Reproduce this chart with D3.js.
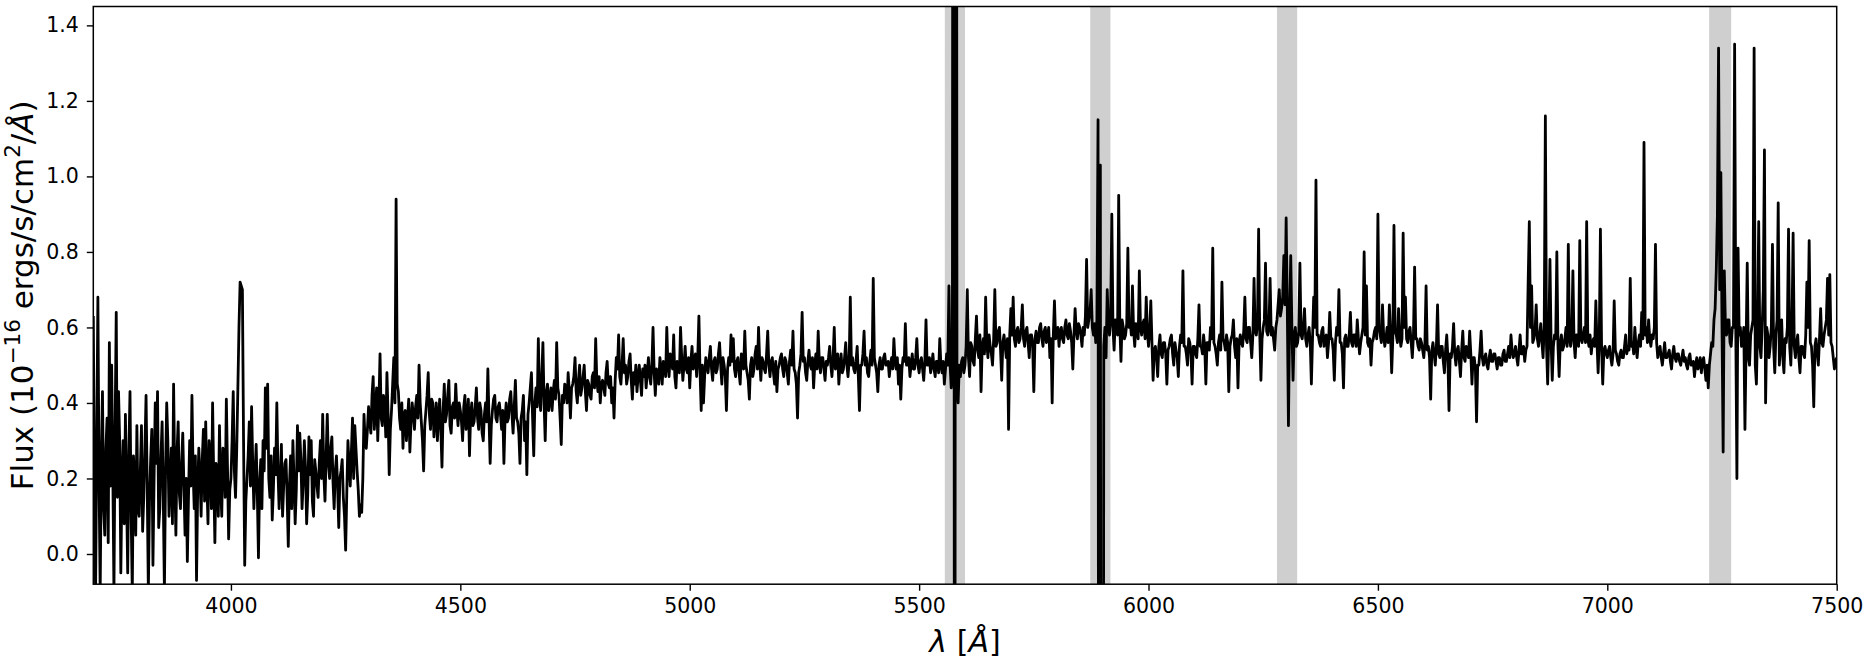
<!DOCTYPE html>
<html>
<head>
<meta charset="utf-8">
<script src="https://cdn.jsdelivr.net/npm/d3@7"></script>
<style>
html,body{margin:0;padding:0;background:#fff;}
svg{display:block;}
text{font-family:"DejaVu Sans",sans-serif;fill:#000;}
</style>
</head>
<body>
<svg id="chart" width="1864" height="662"></svg>
<script>
// Wavelength grid (Angstrom) of the spectrum samples
const lambdaStart = 3700;
const lambdaStep = 2.5;
// Flux values (1e-16 erg/s/cm^2/A), one per wavelength sample, 3700..7500
const flux = [
// 3700-3797.5
0.63,0.15,-0.10,0.30,0.68,0.20,-0.10,0.25,0.43,0.12,0.05,0.28,0.36,0.03,0.56,0.18,0.50,0.22,-0.10,0.33,
0.64,0.15,0.43,0.30,-0.05,0.20,0.30,0.08,0.37,0.16,-0.05,0.27,0.43,0.10,-0.10,0.26,0.20,0.05,0.34,0.12,
// 3800-3897.5
0.10,0.22,0.34,0.06,0.15,0.28,0.42,0.18,-0.10,0.14,0.25,0.33,-0.03,0.20,0.40,0.24,0.43,0.07,0.12,0.26,
0.35,0.15,-0.10,0.22,0.40,0.30,0.10,0.19,0.28,0.08,0.45,0.21,0.05,0.27,0.35,0.16,0.12,0.24,0.32,0.18,
// 3900-3997.5
0.05,0.20,-0.02,0.15,0.30,0.18,0.42,0.22,0.12,0.26,-0.07,0.17,0.28,0.21,0.10,0.25,0.33,0.14,0.35,0.19,
0.08,0.30,0.25,0.12,0.40,0.20,0.03,0.24,0.22,0.10,0.34,0.18,0.10,0.28,0.26,0.15,0.41,0.23,0.04,0.17,
// 4000-4097.5
0.20,0.30,0.43,0.22,0.15,0.27,0.43,0.60,0.72,0.71,0.70,0.30,-0.03,0.14,0.20,0.26,0.35,0.18,0.39,0.24,
0.12,0.21,0.29,0.16,-0.01,0.19,0.25,0.12,0.30,0.22,0.44,0.28,0.45,0.20,0.15,0.26,0.09,0.17,0.28,0.21,
// 4100-4197.5
0.40,0.22,0.12,0.20,0.29,0.10,0.18,0.24,0.25,0.15,0.02,0.18,0.26,0.12,0.30,0.20,0.08,0.17,0.34,0.22,
0.32,0.25,0.12,0.19,0.30,0.23,0.08,0.16,0.31,0.21,0.30,0.14,0.10,0.25,0.22,0.18,0.15,0.24,0.30,0.20,
// 4200-4297.5
0.37,0.21,0.14,0.26,0.37,0.24,0.20,0.28,0.31,0.19,0.12,0.22,0.26,0.18,0.07,0.20,0.22,0.25,0.15,0.10,
0.01,0.16,0.30,0.24,0.18,0.27,0.36,0.20,0.34,0.28,0.22,0.17,0.10,0.13,0.11,0.20,0.37,0.30,0.28,0.33,
// 4300-4397.5
0.39,0.35,0.32,0.42,0.47,0.33,0.38,0.44,0.30,0.40,0.53,0.36,0.34,0.42,0.40,0.31,0.48,0.37,0.21,0.33,
0.38,0.45,0.52,0.40,0.94,0.45,0.43,0.36,0.33,0.40,0.28,0.37,0.38,0.30,0.36,0.41,0.27,0.35,0.40,0.37,
// 4400-4497.5
0.33,0.39,0.42,0.36,0.50,0.40,0.35,0.30,0.22,0.34,0.38,0.42,0.48,0.37,0.33,0.41,0.40,0.31,0.36,0.40,
0.30,0.36,0.41,0.33,0.23,0.38,0.45,0.35,0.37,0.42,0.46,0.34,0.32,0.39,0.40,0.36,0.45,0.38,0.34,0.40,
// 4500-4597.5
0.38,0.35,0.30,0.39,0.42,0.33,0.36,0.41,0.26,0.37,0.40,0.34,0.35,0.39,0.44,0.36,0.33,0.40,0.38,0.32,
0.30,0.37,0.40,0.35,0.49,0.36,0.24,0.34,0.38,0.41,0.42,0.36,0.35,0.39,0.40,0.37,0.33,0.38,0.24,0.36,
// 4600-4697.5
0.40,0.35,0.36,0.41,0.43,0.37,0.32,0.39,0.46,0.36,0.35,0.32,0.24,0.36,0.38,0.42,0.30,0.35,0.21,0.37,
0.40,0.44,0.48,0.36,0.26,0.40,0.44,0.39,0.57,0.42,0.38,0.47,0.56,0.40,0.30,0.43,0.45,0.38,0.41,0.44,
// 4700-4797.5
0.38,0.43,0.46,0.41,0.56,0.44,0.42,0.36,0.29,0.42,0.40,0.45,0.44,0.40,0.48,0.43,0.36,0.44,0.45,0.47,
0.52,0.43,0.40,0.46,0.50,0.42,0.44,0.47,0.50,0.43,0.38,0.46,0.45,0.42,0.41,0.47,0.48,0.44,0.57,0.46,
// 4800-4897.5
0.43,0.47,0.40,0.45,0.46,0.44,0.42,0.48,0.51,0.45,0.44,0.47,0.40,0.44,0.36,0.46,0.52,0.49,0.58,0.47,
0.45,0.50,0.57,0.48,0.50,0.45,0.47,0.51,0.53,0.46,0.41,0.48,0.45,0.50,0.43,0.47,0.50,0.46,0.42,0.49,
// 4900-4997.5
0.47,0.50,0.44,0.48,0.52,0.47,0.45,0.50,0.60,0.48,0.42,0.49,0.48,0.45,0.52,0.49,0.45,0.51,0.50,0.47,
0.60,0.50,0.47,0.53,0.52,0.49,0.58,0.47,0.44,0.51,0.50,0.48,0.60,0.52,0.46,0.50,0.55,0.49,0.48,0.52,
// 5000-5097.5
0.44,0.51,0.55,0.49,0.50,0.53,0.47,0.52,0.63,0.48,0.38,0.50,0.40,0.47,0.52,0.50,0.48,0.52,0.55,0.49,
0.46,0.51,0.52,0.48,0.49,0.53,0.56,0.50,0.45,0.52,0.50,0.47,0.38,0.49,0.52,0.50,0.58,0.51,0.57,0.49,
// 5100-5197.5
0.47,0.51,0.52,0.48,0.45,0.53,0.50,0.49,0.59,0.50,0.48,0.46,0.41,0.50,0.52,0.47,0.49,0.53,0.55,0.49,
0.60,0.51,0.46,0.52,0.51,0.49,0.48,0.53,0.59,0.50,0.47,0.51,0.52,0.48,0.45,0.51,0.43,0.49,0.50,0.52,
// 5200-5297.5
0.53,0.49,0.47,0.52,0.51,0.48,0.45,0.51,0.54,0.50,0.59,0.49,0.48,0.45,0.36,0.48,0.50,0.53,0.64,0.51,
0.52,0.48,0.46,0.51,0.54,0.50,0.49,0.52,0.44,0.50,0.53,0.49,0.59,0.51,0.48,0.52,0.52,0.49,0.46,0.51,
// 5300-5397.5
0.50,0.52,0.55,0.50,0.47,0.52,0.60,0.49,0.50,0.53,0.45,0.50,0.53,0.48,0.49,0.52,0.56,0.50,0.47,0.51,
0.68,0.50,0.52,0.49,0.48,0.51,0.55,0.47,0.38,0.50,0.50,0.53,0.59,0.50,0.52,0.48,0.47,0.51,0.54,0.50,
// 5400-5497.5
0.73,0.52,0.50,0.48,0.43,0.50,0.52,0.49,0.49,0.52,0.53,0.50,0.50,0.51,0.47,0.50,0.52,0.49,0.57,0.51,
0.49,0.52,0.45,0.50,0.41,0.49,0.52,0.51,0.61,0.50,0.50,0.52,0.47,0.50,0.53,0.49,0.49,0.52,0.57,0.50,
// 5500-5597.5
0.48,0.51,0.52,0.49,0.46,0.51,0.62,0.50,0.50,0.52,0.48,0.50,0.53,0.49,0.47,0.51,0.51,0.48,0.57,0.50,
0.48,0.51,0.45,0.49,0.53,0.50,0.71,0.50,0.44,0.48,5.00,-3.00,5.00,0.47,0.40,0.50,0.47,0.51,0.52,0.48,
// 5600-5697.5
0.50,0.55,0.70,0.52,0.47,0.56,0.55,0.51,0.50,0.57,0.63,0.54,0.52,0.58,0.43,0.55,0.57,0.53,0.68,0.56,
0.52,0.58,0.55,0.53,0.50,0.57,0.70,0.55,0.56,0.59,0.60,0.54,0.46,0.56,0.58,0.55,0.52,0.57,0.33,0.58,
// 5700-5797.5
0.65,0.58,0.68,0.57,0.55,0.59,0.60,0.56,0.57,0.60,0.66,0.57,0.55,0.59,0.60,0.56,0.52,0.58,0.58,0.55,
0.43,0.57,0.59,0.56,0.56,0.60,0.61,0.57,0.55,0.59,0.60,0.56,0.58,0.60,0.52,0.57,0.40,0.58,0.67,0.57,
// 5800-5897.5
0.58,0.60,0.55,0.59,0.60,0.57,0.56,0.60,0.62,0.58,0.57,0.61,0.59,0.56,0.49,0.58,0.65,0.59,0.57,0.61,
0.60,0.58,0.55,0.60,0.58,0.63,0.78,0.60,0.62,0.64,0.70,0.60,0.58,0.61,0.56,0.62,1.15,-3.00,1.03,-3.00,
// 5900-5997.5
-3.00,0.55,0.60,0.52,0.70,0.61,0.58,0.63,0.90,0.60,0.54,0.62,0.62,0.58,0.95,0.60,0.51,0.62,0.60,0.57,
0.58,0.61,0.81,0.60,0.62,0.58,0.71,0.59,0.55,0.61,0.60,0.57,0.75,0.60,0.58,0.61,0.62,0.57,0.68,0.59,
// 6000-6097.5
0.55,0.59,0.67,0.56,0.46,0.54,0.55,0.52,0.47,0.55,0.58,0.53,0.52,0.56,0.56,0.53,0.45,0.54,0.55,0.57,
0.58,0.53,0.50,0.56,0.54,0.52,0.47,0.55,0.58,0.56,0.75,0.55,0.55,0.53,0.50,0.57,0.56,0.53,0.45,0.55,
// 6100-6197.5
0.55,0.53,0.52,0.57,0.66,0.55,0.55,0.53,0.58,0.55,0.45,0.56,0.56,0.54,0.60,0.57,0.81,0.56,0.55,0.53,
0.50,0.56,0.58,0.54,0.72,0.57,0.56,0.54,0.58,0.56,0.43,0.55,0.57,0.58,0.62,0.55,0.52,0.57,0.44,0.56,
// 6200-6297.5
0.58,0.56,0.55,0.59,0.68,0.57,0.56,0.60,0.60,0.56,0.52,0.58,0.73,0.59,0.58,0.61,0.86,0.58,0.46,0.57,
0.60,0.62,0.77,0.59,0.58,0.60,0.73,0.58,0.60,0.57,0.54,0.60,0.62,0.66,0.70,0.63,0.65,0.68,0.79,0.66,
// 6300-6397.5
0.89,0.65,0.34,0.62,0.79,0.60,0.46,0.58,0.60,0.55,0.56,0.59,0.77,0.58,0.57,0.60,0.65,0.57,0.55,0.58,
0.60,0.56,0.45,0.57,0.68,0.60,0.99,0.58,0.58,0.56,0.55,0.59,0.60,0.55,0.57,0.58,0.52,0.56,0.64,0.57,
// 6400-6497.5
0.57,0.54,0.46,0.56,0.60,0.58,0.70,0.56,0.56,0.53,0.44,0.57,0.58,0.55,0.55,0.58,0.64,0.56,0.55,0.58,
0.58,0.55,0.62,0.57,0.53,0.56,0.58,0.60,0.80,0.58,0.71,0.56,0.55,0.57,0.50,0.56,0.57,0.59,0.60,0.57,
// 6500-6597.5
0.90,0.60,0.58,0.56,0.66,0.58,0.55,0.57,0.60,0.56,0.66,0.58,0.48,0.57,0.87,0.59,0.58,0.56,0.65,0.58,
0.55,0.57,0.85,0.60,0.68,0.57,0.56,0.59,0.60,0.56,0.52,0.58,0.76,0.57,0.57,0.55,0.54,0.57,0.56,0.54,
// 6600-6697.5
0.52,0.56,0.71,0.54,0.55,0.52,0.41,0.54,0.56,0.53,0.50,0.55,0.66,0.53,0.52,0.55,0.55,0.51,0.48,0.54,
0.58,0.52,0.38,0.53,0.52,0.55,0.61,0.53,0.50,0.54,0.55,0.51,0.47,0.54,0.59,0.52,0.51,0.55,0.54,0.52,
// 6700-6797.5
0.59,0.53,0.45,0.52,0.52,0.49,0.35,0.50,0.50,0.54,0.59,0.52,0.50,0.52,0.53,0.50,0.49,0.52,0.54,0.51,
0.51,0.53,0.53,0.51,0.49,0.52,0.52,0.50,0.50,0.53,0.54,0.51,0.51,0.53,0.55,0.52,0.58,0.54,0.52,0.53,
// 6800-6897.5
0.55,0.52,0.50,0.54,0.58,0.53,0.53,0.55,0.51,0.54,0.55,0.72,0.88,0.60,0.71,0.56,0.57,0.59,0.66,0.57,
0.55,0.58,0.61,0.56,0.52,0.60,1.16,0.55,0.45,0.58,0.78,0.56,0.46,0.55,0.58,0.57,0.80,0.55,0.47,0.56,
// 6900-6997.5
0.58,0.54,0.55,0.57,0.60,0.55,0.82,0.57,0.55,0.58,0.75,0.56,0.52,0.58,0.58,0.55,0.83,0.57,0.56,0.58,
0.60,0.56,0.88,0.57,0.55,0.58,0.53,0.56,0.57,0.55,0.67,0.56,0.48,0.57,0.86,0.55,0.45,0.54,0.55,0.53,
// 7000-7097.5
0.52,0.54,0.55,0.52,0.50,0.53,0.67,0.54,0.53,0.51,0.50,0.53,0.54,0.52,0.52,0.55,0.58,0.53,0.55,0.54,
0.73,0.55,0.56,0.53,0.60,0.55,0.52,0.56,0.58,0.55,0.64,0.57,1.09,0.58,0.60,0.56,0.62,0.57,0.55,0.58,
// 7100-7197.5
0.57,0.60,0.82,0.56,0.52,0.54,0.55,0.52,0.50,0.53,0.56,0.52,0.52,0.53,0.54,0.51,0.49,0.53,0.55,0.52,
0.51,0.53,0.53,0.51,0.50,0.52,0.54,0.51,0.52,0.50,0.49,0.52,0.53,0.50,0.50,0.51,0.47,0.50,0.52,0.49,
// 7200-7297.5
0.50,0.52,0.48,0.51,0.52,0.49,0.46,0.50,0.44,0.50,0.53,0.56,0.55,0.62,0.65,0.75,0.90,1.34,0.70,1.01,
0.60,0.27,0.75,0.60,0.58,0.62,0.62,0.56,0.55,0.60,0.60,1.35,0.60,0.20,0.81,0.58,0.60,0.55,0.56,0.60,
// 7300-7397.5
0.33,0.55,0.77,0.52,0.50,0.58,0.60,0.62,1.34,0.50,0.45,0.60,0.88,0.55,0.52,0.60,0.70,1.07,0.40,0.60,
0.58,0.52,0.55,0.60,0.82,0.55,0.48,0.58,0.62,0.93,0.50,0.56,0.62,0.52,0.48,0.57,0.56,0.60,0.86,0.55,
// 7400-7500
0.50,0.60,0.85,0.55,0.52,0.56,0.58,0.52,0.48,0.55,0.55,0.53,0.52,0.58,0.72,0.60,0.83,0.56,0.55,0.50,
0.39,0.55,0.57,0.53,0.50,0.57,0.65,0.56,0.55,0.58,0.60,0.62,0.73,0.58,0.74,0.56,0.55,0.52,0.49,0.51,
0.52
];
// Masked sky / telluric regions (Angstrom)
const bandStarts = [5556, 5873, 6280, 7222];
const bandEnds   = [5600, 5917, 6324, 7270];
// Axis ticks
const xTicks = [4000, 4500, 5000, 5500, 6000, 6500, 7000, 7500];
const yTicks = [0.0, 0.2, 0.4, 0.6, 0.8, 1.0, 1.2, 1.4];
const xDomain = [3700, 7500];
const yDomain = [-0.08, 1.45];

(function () {
const svg = d3.select("#chart");
const pL = 93.3, pR = 1836.7, pT = 6.5, pB = 584.2;

const x = d3.scaleLinear().domain(xDomain).range([pL, pR]);
const y = d3.scaleLinear().domain(yDomain).range([pB, pT]);

svg.append("defs").append("clipPath").attr("id", "plotclip")
  .append("rect").attr("x", pL).attr("y", pT)
  .attr("width", pR - pL).attr("height", pB - pT);

const plot = svg.append("g").attr("clip-path", "url(#plotclip)");

// grey bands
plot.selectAll("rect.band").data(bandStarts.map((s, i) => [s, bandEnds[i]]))
  .enter().append("rect").attr("class", "band")
  .attr("x", d => x(d[0])).attr("width", d => x(d[1]) - x(d[0]))
  .attr("y", pT).attr("height", pB - pT)
  .attr("fill", "#cfcfcf");

// spectrum
const pts = flux.map((f, i) => [lambdaStart + i * lambdaStep, f]);
const line = d3.line().x(d => x(d[0])).y(d => y(d[1]));
plot.append("path").datum(pts)
  .attr("d", line)
  .attr("fill", "none")
  .attr("stroke", "#000")
  .attr("stroke-width", 2.8)
  .attr("stroke-linejoin", "round");

// axes
const xAxis = d3.axisBottom(x).tickValues(xTicks).tickSize(6.5).tickPadding(8)
  .tickFormat(d3.format("d"));
const yAxis = d3.axisLeft(y).tickValues(yTicks).tickSize(6.5).tickPadding(8)
  .tickFormat(d3.format(".1f"));

const gx = svg.append("g").attr("transform", `translate(0,${pB})`).call(xAxis);
const gy = svg.append("g").attr("transform", `translate(${pL},0)`).call(yAxis);
[gx, gy].forEach(g => {
  g.select(".domain").remove();
  g.selectAll(".tick line").attr("stroke", "#000").attr("stroke-width", 1.4);
  g.selectAll(".tick text").attr("font-size", 20.5).attr("font-family", "DejaVu Sans").attr("fill", "#000");
});

// frame
svg.append("rect").attr("x", pL).attr("y", pT)
  .attr("width", pR - pL).attr("height", pB - pT)
  .attr("fill", "none").attr("stroke", "#000").attr("stroke-width", 1.5);

// x label
const xl = svg.append("text").attr("x", (pL + pR) / 2).attr("y", 652)
  .attr("text-anchor", "middle").attr("font-size", 30);
xl.append("tspan").attr("font-style", "italic").text("λ");
xl.append("tspan").text(" [");
xl.append("tspan").attr("font-style", "italic").text("Å");
xl.append("tspan").text("]");

// y label
const yl = svg.append("text")
  .attr("transform", `translate(33,${(pT + pB) / 2}) rotate(-90)`)
  .attr("text-anchor", "middle").attr("font-size", 31);
yl.append("tspan").text("Flux (10");
yl.append("tspan").attr("font-size", 21.5).attr("dy", -13).text("−16");
yl.append("tspan").attr("dy", 13).text(" ergs/s/cm");
yl.append("tspan").attr("font-size", 21.5).attr("dy", -13).text("2");
yl.append("tspan").attr("dy", 13).text("/");
yl.append("tspan").attr("font-style", "italic").text("Å");
yl.append("tspan").text(")");
})();
</script>
</body>
</html>
